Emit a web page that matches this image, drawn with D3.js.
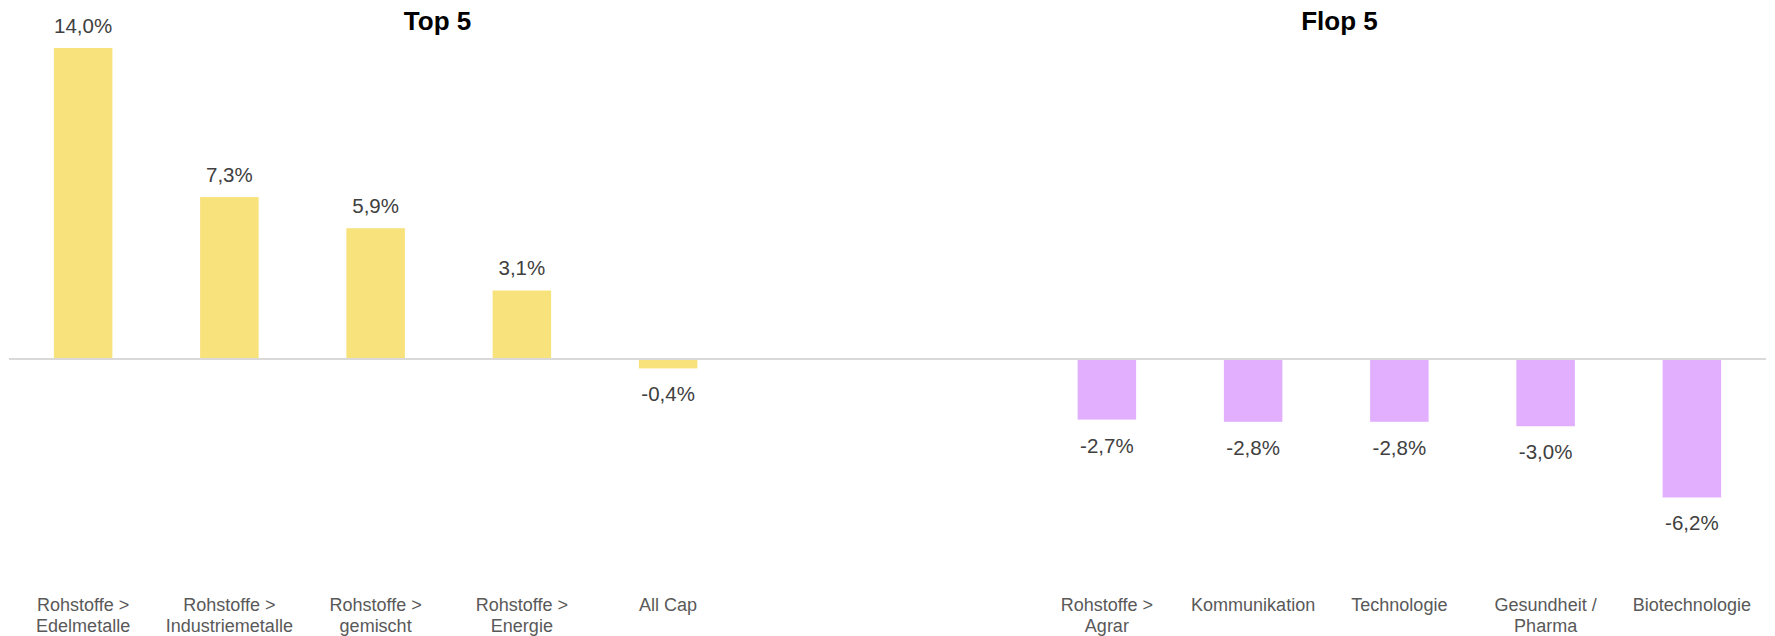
<!DOCTYPE html>
<html>
<head>
<meta charset="utf-8">
<script src="https://cdn.jsdelivr.net/npm/d3@7"></script>
<style>
  html, body { margin: 0; padding: 0; background: white; }
  svg { display: block; font-family: "Liberation Sans", Arial, sans-serif; }
</style>
</head>
<body>
<svg></svg>
<script>
const w = 1775;
const h = 636;

// data
const topCategories = ["Rohstoffe >|Edelmetalle", "Rohstoffe >|Industriemetalle", "Rohstoffe >|gemischt", "Rohstoffe >|Energie", "All Cap"];
const topValues = [14.0, 7.3, 5.9, 3.1, -0.4];
const flopCategories = ["Rohstoffe >|Agrar", "Kommunikation", "Technologie", "Gesundheit /|Pharma", "Biotechnologie"];
const flopValues = [-2.7, -2.8, -2.8, -3.0, -6.2];
const titles = ["Top 5", "Flop 5"];

const topColor = "#f8e27c";
const flopColor = "#e2aefe";

const rows = [
    ...topCategories.map((c, i) => ({key: "t" + i, label: c, value: topValues[i], color: topColor})),
    {key: "gap1"}, {key: "gap2"},
    ...flopCategories.map((c, i) => ({key: "f" + i, label: c, value: flopValues[i], color: flopColor})),
];
const bars = rows.filter(d => d.value !== undefined);

const svg = d3.select("svg")
    .attr("width", w)
    .attr("height", h)
    .attr("viewBox", [0, 0, w, h]);

const x = d3.scaleBand()
    .domain(rows.map(d => d.key))
    .range([10, 1765])
    .paddingInner(0.6)
    .paddingOuter(0.3);

const y = d3.scaleLinear()
    .domain([-10, 14])
    .range([582, 48]);

// bars
svg.selectAll("rect.bar")
    .data(bars)
    .join("rect")
    .attr("class", "bar")
    .attr("x", d => x(d.key))
    .attr("width", x.bandwidth())
    .attr("y", d => Math.min(y(d.value), y(0)))
    .attr("height", d => Math.abs(y(d.value) - y(0)))
    .attr("fill", d => d.color);

// zero line
svg.append("line")
    .attr("x1", 9)
    .attr("x2", 1766)
    .attr("y1", y(0) - 0.5)
    .attr("y2", y(0) - 0.5)
    .attr("stroke", "#d9d9d9")
    .attr("stroke-width", 2);

// value labels
svg.selectAll("text.value")
    .data(bars)
    .join("text")
    .attr("class", "value")
    .attr("x", d => x(d.key) + x.bandwidth() / 2)
    .attr("y", d => d.value >= 0 ? y(d.value) - 15.5 : y(d.value) + 33)
    .attr("text-anchor", "middle")
    .attr("font-size", "20.5px")
    .attr("fill", "#404040")
    .text(d => d3.format(".1f")(d.value).replace(".", ",").replace("−", "-") + "%");

// category labels
const cat = svg.selectAll("text.cat")
    .data(bars)
    .join("text")
    .attr("class", "cat")
    .attr("text-anchor", "middle")
    .attr("font-size", "18px")
    .attr("fill", "#595959");

cat.selectAll("tspan")
    .data(d => d.label.split("|").map(t => ({t, cx: x(d.key) + x.bandwidth() / 2})))
    .join("tspan")
    .attr("x", d => d.cx)
    .attr("y", (d, i) => 610.5 + i * 21.5)
    .text(d => d.t);

// titles
svg.selectAll("text.title")
    .data(titles)
    .join("text")
    .attr("class", "title")
    .attr("x", (d, i) => i === 0 ? 437.5 : 1339.5)
    .attr("y", 29.5)
    .attr("text-anchor", "middle")
    .attr("font-size", "26px")
    .attr("font-weight", "bold")
    .attr("fill", "#000")
    .text(d => d);
</script>
</body>
</html>
